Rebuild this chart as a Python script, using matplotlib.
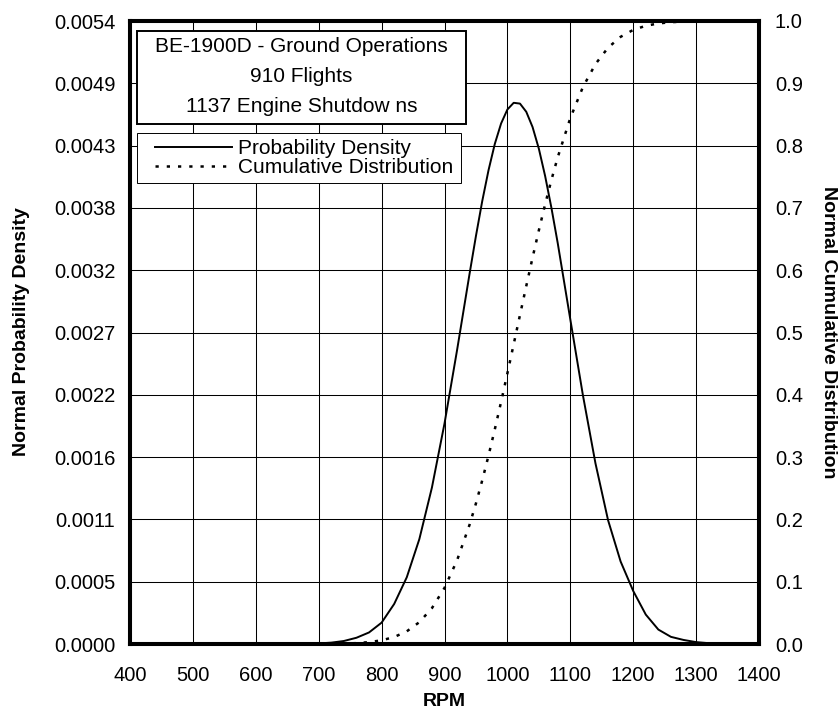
import matplotlib
matplotlib.use("Agg")
import matplotlib.pyplot as plt
from matplotlib.patches import Rectangle

# -----------------------------
# Data
# -----------------------------
rpm = [700, 720, 740, 760, 780, 800, 820, 840, 860, 880, 900, 920, 940, 950,
       960, 970, 980, 990, 1000, 1010, 1020, 1030, 1040, 1050, 1060, 1070,
       1080, 1100, 1120, 1140, 1160, 1180, 1200, 1220, 1240, 1260, 1280,
       1300, 1320]

density = [0.0000051, 0.0000118, 0.0000260, 0.0000541, 0.000100, 0.000185,
           0.000347, 0.000578, 0.000909, 0.001356, 0.001911, 0.002548,
           0.003214, 0.003537, 0.003839, 0.004107, 0.004335, 0.004512,
           0.004633, 0.004691, 0.004684, 0.004613, 0.004481, 0.004293,
           0.004056, 0.003780, 0.003475, 0.002814, 0.002158, 0.001566,
           0.001074, 0.000715, 0.000460, 0.000255, 0.000125, 0.0000620,
           0.0000352, 0.0000163, 0.0000072]

cumulative = [0.00011, 0.00027, 0.00063, 0.0014, 0.0030, 0.0059, 0.0112,
              0.0203, 0.0350, 0.0575, 0.0900, 0.1344, 0.1919, 0.2257, 0.2627,
              0.3024, 0.3446, 0.3888, 0.4345, 0.4812, 0.5281, 0.5746, 0.6202,
              0.6640, 0.7058, 0.7450, 0.7812, 0.8442, 0.8938, 0.9309, 0.9571,
              0.9746, 0.9857, 0.9923, 0.9961, 0.9981, 0.9991, 0.9996, 0.9998]

x_ticks = [400, 500, 600, 700, 800, 900, 1000, 1100, 1200, 1300, 1400]
left_ticks = [0.0, 0.00054, 0.00108, 0.00162, 0.00216, 0.0027, 0.00324,
              0.00378, 0.00432, 0.00486, 0.0054]
left_labels = ["0.0000", "0.0005", "0.0011", "0.0016", "0.0022", "0.0027",
               "0.0032", "0.0038", "0.0043", "0.0049", "0.0054"]
right_ticks = [0.0, 0.1, 0.2, 0.3, 0.4, 0.5, 0.6, 0.7, 0.8, 0.9, 1.0]

info_lines = ["BE-1900D - Ground Operations", "910 Flights",
              "1137 Engine Shutdow ns"]

plt.rcParams["font.family"] = ["Liberation Sans", "DejaVu Sans"]

W, H = 839, 711
fig = plt.figure(figsize=(W / 100, H / 100), dpi=100)


def fx(px):
    return px / W


def fy(py):
    return 1 - py / H


# plot area in pixels: left 130, right 759, top 21, bottom 644
ax = fig.add_axes([fx(130), fy(644), fx(759 - 130), (644 - 21) / H])
ax2 = ax.twinx()

ax.set_xlim(400, 1400)
ax.set_ylim(0, 0.0054)
ax2.set_ylim(0, 1.0)

ax.set_xticks(x_ticks)
ax.set_yticks(left_ticks)
ax.set_yticklabels(left_labels)
ax2.set_yticks(right_ticks)
ax2.set_yticklabels([f"{v:.1f}" for v in right_ticks])

ax.grid(True, color="black", linewidth=0.75)
ax.set_axisbelow(True)
ax.tick_params(axis="both", length=0, labelsize=14.5)
ax.tick_params(axis="x", pad=15.5)
ax.tick_params(axis="y", pad=10.5)
ax2.tick_params(axis="y", length=0, labelsize=14.5, pad=11.5)

for a in (ax, ax2):
    for s in a.spines.values():
        s.set_linewidth(2.9)
        s.set_color("black")

l1, = ax.plot(rpm, density, color="black", linewidth=1.4,
              label="Probability Density")
l2, = ax2.plot(rpm, cumulative, color="black", linewidth=1.8,
               linestyle=(0, (1.3, 3.2)), label="Cumulative Distribution")

ax.set_xlabel("RPM", fontsize=14, fontweight="bold", labelpad=6)
fig.text(fx(22), fy(332), "Normal Probability Density", rotation=90,
         ha="center", va="center", fontsize=14, fontweight="bold")
fig.text(fx(829), fy(332), "Normal Cumulative Distribution", rotation=-90,
         ha="center", va="center", fontsize=14, fontweight="bold")

# info box
fig.patches.append(Rectangle((fx(137), fy(124)), fx(466 - 137), (124 - 31) / H,
                             transform=fig.transFigure, facecolor="white",
                             edgecolor="black", linewidth=1.4, zorder=5))
fig.text(fx(301.5), fy(76.5), "\n".join(info_lines), ha="center", va="center",
         fontsize=15, linespacing=1.76, zorder=6)

# legend box
fig.patches.append(Rectangle((fx(137), fy(183)), fx(461 - 137), (183 - 133) / H,
                             transform=fig.transFigure, facecolor="white",
                             edgecolor="black", linewidth=0.7, zorder=5))
leg = fig.legend([l1, l2], [l1.get_label(), l2.get_label()],
                 loc="upper left", bbox_to_anchor=(fx(155), fy(139)),
                 frameon=False, fontsize=15, borderpad=0, borderaxespad=0,
                 handlelength=3.7, handletextpad=0.3, labelspacing=0.0)
leg.set_zorder(7)

fig.savefig("out.png", dpi=100)
